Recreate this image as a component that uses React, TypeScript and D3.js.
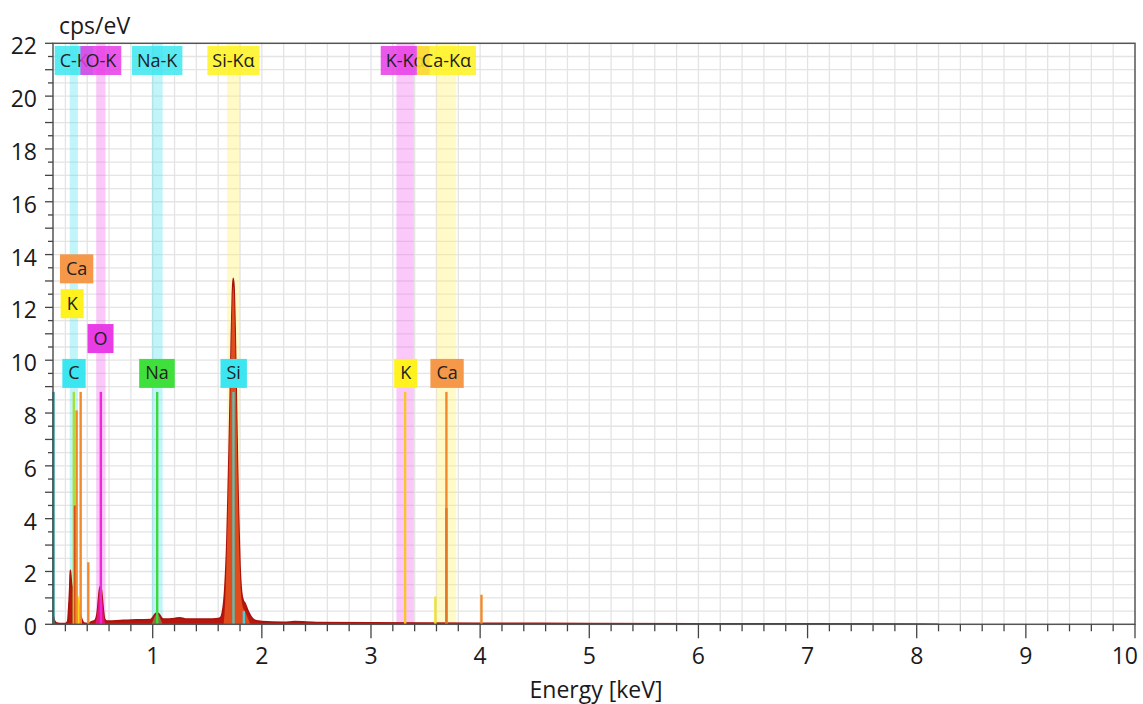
import React from 'react';
import * as d3 from 'd3';

const W = 1143;
const H = 704;
const PLOT = { left: 53, right: 1135, top: 43.3, bottom: 624.3 };
const FONT = '"Open Sans", Lato, sans-serif';

// ---- axes ----
const xDomain: [number, number] = [0.0865, 10];
const yDomain: [number, number] = [0, 22];
const xMajorTicks = [1, 2, 3, 4, 5, 6, 7, 8, 9, 10];
const yMajorTicks = [0, 2, 4, 6, 8, 10, 12, 14, 16, 18, 20, 22];
const xTitle = 'Energy [keV]';
const yTitle = 'cps/eV';

// ---- measured spectrum (keV, cps/eV) ----
const spectrumEnergy = [
  0.0865, 0.09, 0.1, 0.12, 0.15, 0.2, 0.22, 0.23, 0.24, 0.245, 0.255, 0.27, 0.29, 0.31, 0.33, 0.35, 0.37, 0.4,
  0.42, 0.44, 0.47, 0.49, 0.5, 0.51, 0.52, 0.53, 0.54, 0.55, 0.56, 0.58, 0.6, 0.7, 0.8, 0.9, 0.98, 1.0, 1.02,
  1.04, 1.06, 1.08, 1.1, 1.2, 1.25, 1.3, 1.4, 1.5, 1.6, 1.62, 1.64, 1.66, 1.68, 1.69, 1.7, 1.71, 1.72, 1.73,
  1.737, 1.745, 1.755, 1.765, 1.775, 1.785, 1.8, 1.815, 1.83, 1.845, 1.86, 1.88, 1.9, 1.93, 1.97, 2.0, 2.2,
  2.3, 2.5, 3.0, 3.5, 4.0, 5.0, 6.0, 7.0, 8.0, 8.2,
];
const spectrumCounts = [
  0.12, 0.3, 0.14, 0.05, 0.03, 0.03, 0.1, 0.6, 1.4, 2.05, 1.6, 1.3, 1.15, 0.9, 0.5, 0.2, 0.05, 0.03,
  0.05, 0.1, 0.15, 0.4, 0.8, 1.25, 1.43, 1.3, 0.9, 0.45, 0.2, 0.12, 0.12, 0.14, 0.16, 0.17, 0.18, 0.26, 0.38,
  0.44, 0.38, 0.25, 0.2, 0.22, 0.25, 0.2, 0.2, 0.2, 0.22, 0.25, 0.5, 1.3, 3.2, 4.8, 6.6, 8.6, 10.8, 12.5,
  13.1, 12.8, 11.2, 8.9, 6.5, 4.4, 2.2, 1.2, 0.9, 0.8, 0.65, 0.45, 0.3, 0.17, 0.12, 0.1, 0.08,
  0.1, 0.07, 0.06, 0.05, 0.04, 0.03, 0.02, 0.02, 0.01, 0,
];

// ---- fitted element contributions ----
const siFitEnergy = [1.65, 1.665, 1.68, 1.69, 1.7, 1.71, 1.72, 1.73, 1.737, 1.745, 1.755, 1.765, 1.775, 1.785, 1.8, 1.815, 1.83, 1.845, 1.86, 1.88, 1.895];
const siFitCounts = [0, 0.9, 2.9, 4.5, 6.3, 8.3, 10.5, 12.2, 12.8, 12.5, 10.9, 8.6, 6.2, 4.1, 1.9, 0.9, 0.6, 0.5, 0.35, 0.15, 0];
const oFitEnergy = [0.475, 0.49, 0.5, 0.51, 0.52, 0.53, 0.54, 0.55, 0.565];
const oFitCounts = [0, 0.35, 0.75, 1.2, 1.38, 1.25, 0.85, 0.4, 0];
const naFitEnergy = [0.99, 1.01, 1.025, 1.04, 1.055, 1.07, 1.09];
const naFitCounts = [0, 0.2, 0.33, 0.4, 0.33, 0.2, 0];
const kFitEnergy = [0.29, 0.3, 0.315, 0.33, 0.345, 0.355];
const kFitCounts = [0, 0.6, 1.1, 0.8, 0.2, 0];

// ---- element line bands with their top labels ----
const bandLabels = ['C-K', 'O-K', 'Na-K', 'Si-Kα', 'K-Kα', 'Ca-Kα'];
const bandEnergies = [0.277, 0.525, 1.041, 1.74, 3.313, 3.691];
const bandWidths = [0.076, 0.085, 0.1, 0.12, 0.16, 0.18];
const bandKinds = ['cyan', 'magenta', 'cyan', 'yellow', 'magenta', 'yellow'];

// ---- element markers ----
const markerLabels = ['Ca', 'K', 'O', 'C', 'Na', 'Si', 'K', 'Ca'];
const markerEnergies = [0.303, 0.262, 0.522, 0.279, 1.039, 1.742, 3.318, 3.697];
const markerLevels = [3, 2, 1, 0, 0, 0, 0, 0];
const markerKinds = ['orange', 'yellow', 'magenta', 'cyan', 'green', 'cyan', 'yellow', 'orange'];

// ---- marker lines (keV, cps/eV) ----
const lineEnergies = [0.09, 0.277, 0.288, 0.303, 0.34, 0.41, 0.525, 1.041, 1.74, 1.835, 3.313, 3.59, 3.691, 3.691, 4.012];
const lineHeights = [8.8, 8.8, 4.5, 8.1, 8.8, 2.35, 8.8, 8.8, 8.8, 0.5, 8.8, 1.05, 8.8, 4.4, 1.12];
const lineKinds = ['teal', 'lime', 'redorange', 'orange', 'orange', 'orange', 'magenta', 'green', 'siteal', 'cyan', 'kyellow', 'yellow', 'orange', 'darkorange', 'orange'];

const bandFill: Record<string, string> = { cyan: '#4fe3ee', magenta: '#f060ee', yellow: '#fff060' };
const boxFill: Record<string, string> = {
  cyan: '#3ce6f0', magenta: '#e83ce6', yellow: '#fff21e', orange: '#f5984a', green: '#3fe03c',
};
const lineColor: Record<string, string> = {
  teal: '#1f8c8c', lime: '#a6e03c', redorange: '#d8501c', orange: '#f08a2c', magenta: '#ee2ad8',
  green: '#3cd83c', siteal: '#5cc0b4', cyan: '#44d0e0', kyellow: '#f8c530', yellow: '#f0e030', darkorange: '#e07828',
};

let measureCtx: CanvasRenderingContext2D | null = null;
function textWidth(t: string, size: number) {
  if (!measureCtx) measureCtx = document.createElement('canvas').getContext('2d');
  if (!measureCtx) return t.length * size * 0.55;
  measureCtx.font = `${size}px "Open Sans"`;
  return measureCtx.measureText(t).width;
}

export default function App() {
  const x = d3.scaleLinear().domain(xDomain).range([PLOT.left, PLOT.right]);
  const y = d3.scaleLinear().domain(yDomain).range([PLOT.bottom, PLOT.top]);

  const area = d3
    .area<[number, number]>()
    .x((d) => x(d[0]))
    .y0(y(0))
    .y1((d) => y(d[1]))
    .curve(d3.curveMonotoneX);
  const line = d3
    .line<[number, number]>()
    .x((d) => x(d[0]))
    .y((d) => y(d[1]))
    .curve(d3.curveMonotoneX);

  const zip = (a: number[], b: number[]) => a.map((v, i) => [v, b[i]] as [number, number]);
  const spectrum = zip(spectrumEnergy, spectrumCounts);

  const xMinor = d3.range(0.2, 10.0001, 0.2).map((v) => Math.round(v * 10) / 10);
  const yMinor = d3.range(0, 22.0001, 0.5);

  const labelSize = 18;
  const tickSize = 23;
  const boxH = 29;
  const topBoxY = 46;
  const markerBase = 9.5;
  const markerStep = 1.32;

  return (
    <div style={{ position: 'fixed', left: 0, top: 0, width: W, height: H, background: '#fff' }}>
      <svg width={W} height={H} style={{ display: 'block', fontFamily: FONT }}>
        <rect width={W} height={H} fill="#fff" />
        {/* grid */}
        {xMinor.filter((v) => v < 10).map((v) => (
          <line key={'gx' + v} x1={x(v)} x2={x(v)} y1={PLOT.top} y2={PLOT.bottom} stroke="#e4e4e4" strokeWidth={1.3} />
        ))}
        {yMinor.filter((v) => v > 0 && v < 22).map((v) => (
          <line key={'gy' + v} x1={PLOT.left} x2={PLOT.right} y1={y(v)} y2={y(v)} stroke="#e4e4e4" strokeWidth={1.3} />
        ))}

        {/* element bands */}
        {bandEnergies.map((e, i) => (
          <rect
            key={'band' + i}
            x={x(e - bandWidths[i] / 2)}
            width={x(e + bandWidths[i] / 2) - x(e - bandWidths[i] / 2)}
            y={PLOT.top}
            height={PLOT.bottom - PLOT.top}
            fill={bandFill[bandKinds[i]]}
            opacity={0.35}
          />
        ))}

        {/* spectrum */}
        <path d={area(spectrum) || ''} fill="#b8160f" />
        <path d={line(spectrum) || ''} fill="none" stroke="#a8120c" strokeWidth={1.6} />
        <path d={area(zip(siFitEnergy, siFitCounts)) || ''} fill="#e04c1c" />
        <path d={area(zip(oFitEnergy, oFitCounts)) || ''} fill="#e4167e" />
        <path d={area(zip(naFitEnergy, naFitCounts)) || ''} fill="#8c7442" />
        <path d={area(zip(kFitEnergy, kFitCounts)) || ''} fill="#ffd21e" />

        {/* marker lines */}
        {lineEnergies.map((e, i) => (
          <line
            key={'ml' + i}
            x1={x(e)}
            x2={x(e)}
            y1={y(lineHeights[i])}
            y2={y(0)}
            stroke={lineColor[lineKinds[i]]}
            strokeWidth={i === 0 ? 2.5 : 2.4}
          />
        ))}

        {/* frame */}
        <rect
          x={PLOT.left}
          y={PLOT.top}
          width={PLOT.right - PLOT.left}
          height={PLOT.bottom - PLOT.top}
          fill="none"
          stroke="#555"
          strokeWidth={1.5}
        />

        {/* top labels */}
        {bandEnergies.map((e, i) => {
          const w = textWidth(bandLabels[i], labelSize) + 10;
          const cx = x(e);
          return (
            <g key={'tl' + i}>
              <rect x={cx - w / 2} y={topBoxY} width={w} height={boxH} fill={boxFill[bandKinds[i]]} opacity={0.85} />
              <text x={cx} y={topBoxY + boxH / 2 + 6} textAnchor="middle" fontSize={labelSize} fill="#222">
                {bandLabels[i]}
              </text>
            </g>
          );
        })}

        {/* element marker labels */}
        {markerEnergies.map((e, i) => {
          const w = textWidth(markerLabels[i], labelSize) + 12;
          const cx = x(e);
          const cy = y(markerBase + markerLevels[i] * markerStep);
          return (
            <g key={'mk' + i}>
              <rect x={cx - w / 2} y={cy - boxH / 2} width={w} height={boxH} fill={boxFill[markerKinds[i]]} />
              <text x={cx} y={cy + 6} textAnchor="middle" fontSize={labelSize} fill="#222">
                {markerLabels[i]}
              </text>
            </g>
          );
        })}

        {/* x axis ticks */}
        {xMinor.map((v) => {
          const major = Math.abs(v - Math.round(v)) < 1e-6;
          return (
            <line
              key={'xt' + v}
              x1={x(v)}
              x2={x(v)}
              y1={PLOT.bottom}
              y2={PLOT.bottom + (major ? 14 : 7)}
              stroke="#444"
              strokeWidth={1.3}
            />
          );
        })}
        {xMajorTicks.map((v, i) => {
          const last = i === xMajorTicks.length - 1;
          return (
            <text
              key={'xl' + v}
              x={last ? x(v) + 3 : x(v)}
              y={PLOT.bottom + 40}
              textAnchor={last ? 'end' : 'middle'}
              fontSize={tickSize}
              fill="#1a1a1a"
            >
              {v}
            </text>
          );
        })}
        <text x={(PLOT.left + PLOT.right) / 2 + 2} y={698} textAnchor="middle" fontSize={tickSize} fill="#1a1a1a">
          {xTitle}
        </text>

        {/* y axis ticks */}
        {yMinor.map((v) => {
          const major = Math.abs(v - Math.round(v)) < 1e-6;
          return (
            <line
              key={'yt' + v}
              x1={PLOT.left - (major ? 8 : 5)}
              x2={PLOT.left}
              y1={y(v)}
              y2={y(v)}
              stroke="#444"
              strokeWidth={1.3}
            />
          );
        })}
        {yMajorTicks.map((v) => (
          <text key={'yl' + v} x={37} y={y(v) + 11} textAnchor="end" fontSize={tickSize} fill="#1a1a1a">
            {v}
          </text>
        ))}
        <text x={59} y={34} fontSize={tickSize} fill="#1a1a1a">
          {yTitle}
        </text>
      </svg>
    </div>
  );
}
